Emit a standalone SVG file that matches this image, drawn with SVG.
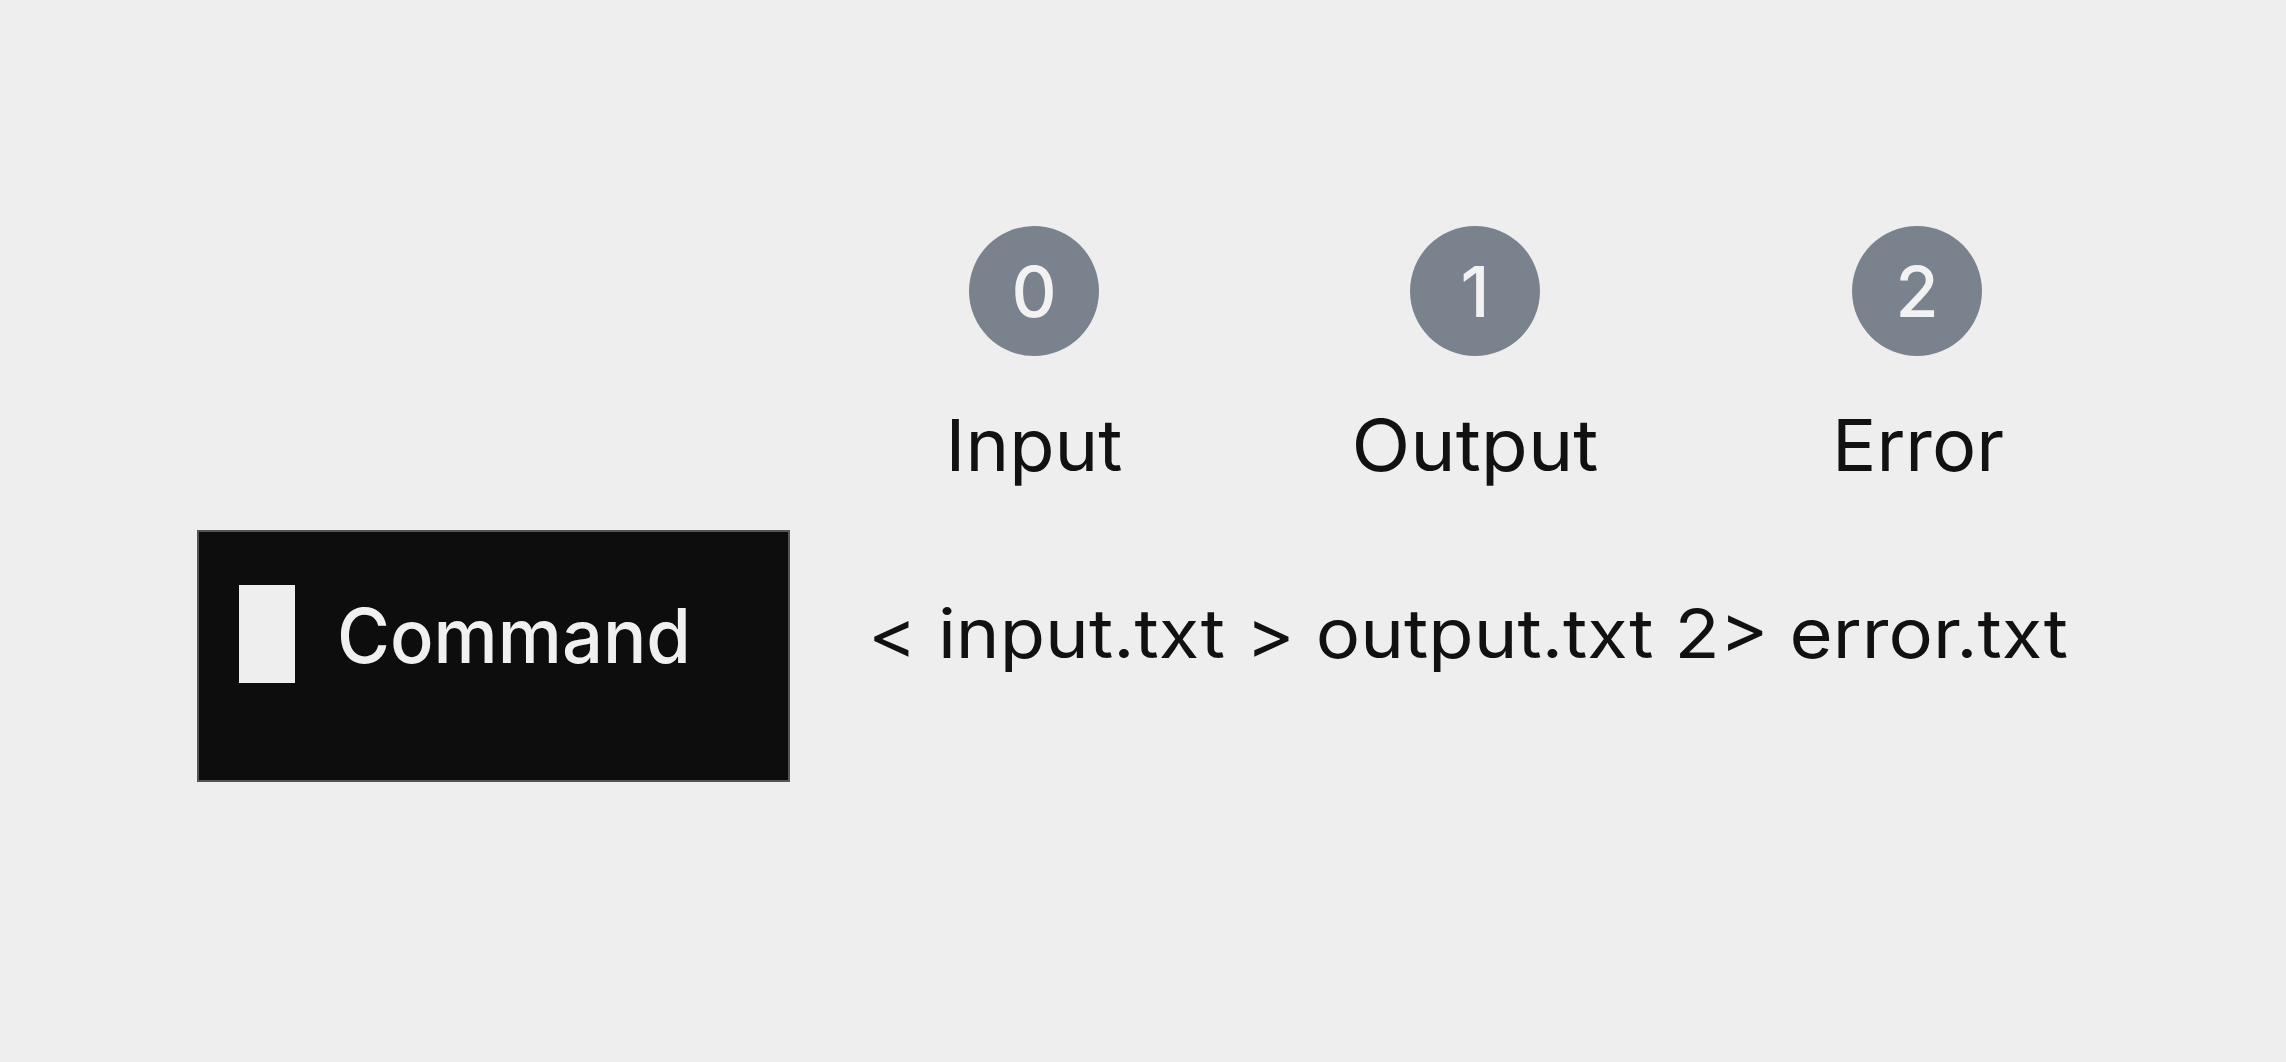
<svg xmlns="http://www.w3.org/2000/svg" width="2286" height="1062" viewBox="0 0 2286 1062">
<style>
.bg{fill:#eeeeee}
.fd{fill:#7a838d}
.dg{font-family:Inter,"Liberation Sans",sans-serif;font-size:70px;font-weight:500;fill:#f2f2f2;text-anchor:middle}
.lbl{font-family:Inter,"Liberation Sans",sans-serif;font-size:72px;fill:#111111;text-anchor:middle}
.cmd{font-family:Inter,"Liberation Sans",sans-serif;font-size:68px;fill:#111111}
.term{fill:#0d0d0d;stroke:#555555;stroke-width:2}
.ctext{font-family:Inter,"Liberation Sans",sans-serif;font-size:75px;font-weight:500;fill:#f0f0f0}
</style>
<rect class="bg" x="0" y="0" width="2286" height="1062"/>
<g id="fd0">
<circle class="fd" cx="1034" cy="291" r="65"/>
<text class="dg" x="1034" y="317">0</text>
<text class="lbl" x="1034" y="471" textLength="177" lengthAdjust="spacingAndGlyphs">Input</text>
</g>
<g id="fd1">
<circle class="fd" cx="1475" cy="291" r="65"/>
<text class="dg" x="1475" y="317">1</text>
<text class="lbl" x="1475" y="471" textLength="247" lengthAdjust="spacingAndGlyphs">Output</text>
</g>
<g id="fd2">
<circle class="fd" cx="1917" cy="291" r="65"/>
<text class="dg" x="1917" y="317">2</text>
<text class="lbl" x="1918" y="471" textLength="172" lengthAdjust="spacingAndGlyphs">Error</text>
</g>
<g id="terminal">
<rect class="term" x="198" y="531" width="591" height="250"/>
<rect x="239" y="585" width="56" height="98" fill="#eeeeee"/>
<text class="ctext" x="337" y="663" textLength="354" lengthAdjust="spacingAndGlyphs">Command</text>
</g>
<g id="redirect">
<text class="cmd" x="868" y="658" textLength="1200" lengthAdjust="spacingAndGlyphs">&lt; input.txt &gt; output.txt 2&gt; error.txt</text>
</g>
<g id="connectors"/>
</svg>
